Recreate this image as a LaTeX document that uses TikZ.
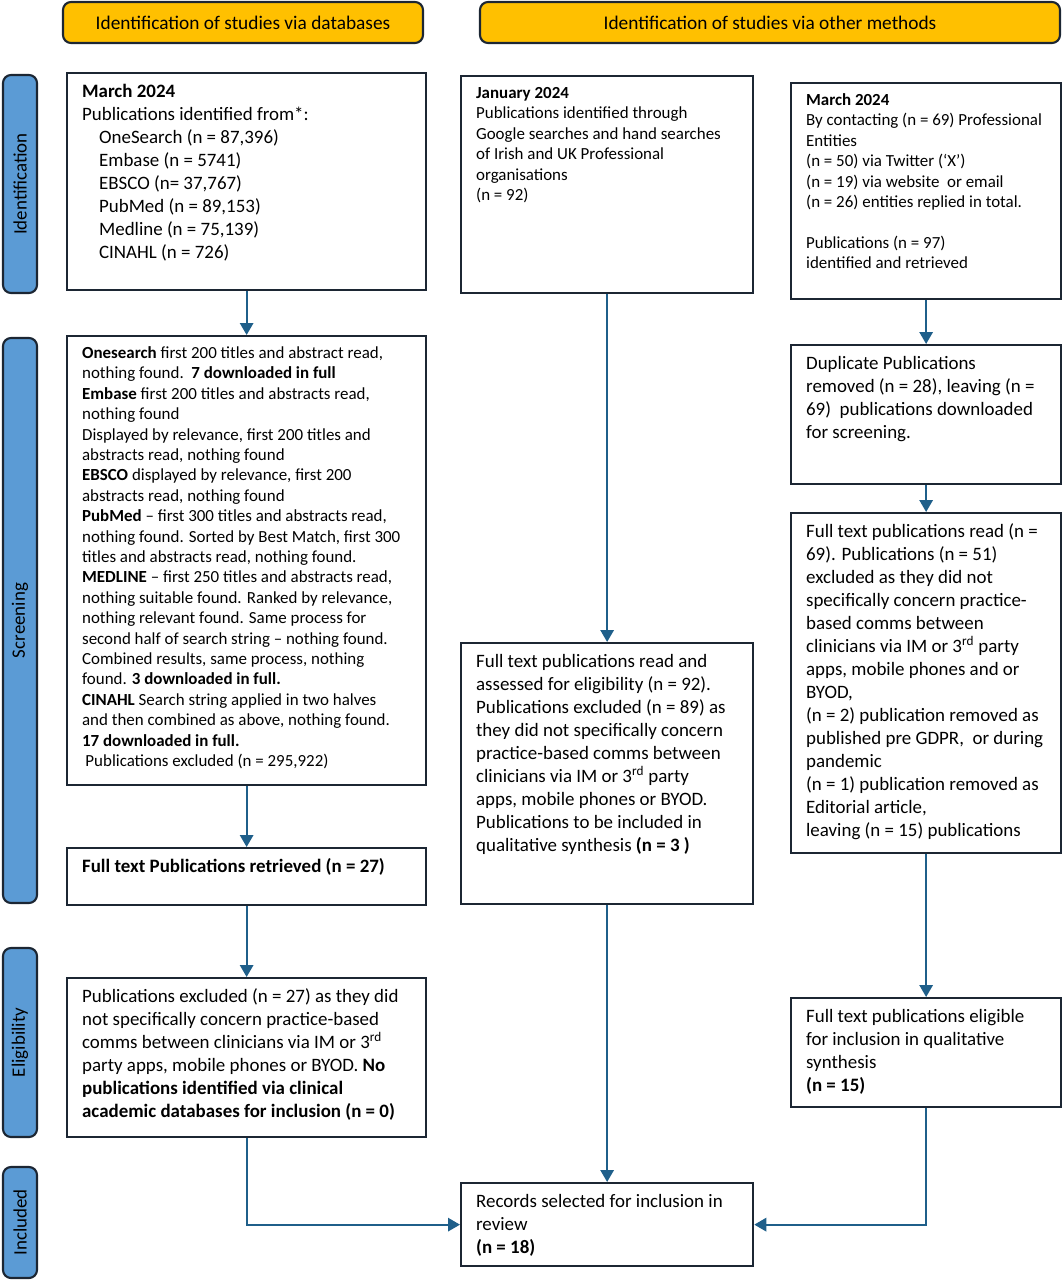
\documentclass[tikz,border=0pt]{standalone}
\usepackage{fontspec}
\setmainfont{Carlito}
\usepackage{tikz}
\usetikzlibrary{arrows.meta}
\definecolor{gold}{HTML}{FFC000}
\definecolor{barblue}{HTML}{5B9BD5}
\definecolor{navy}{HTML}{1C2633}
\definecolor{flowblue}{HTML}{1F5F8A}
\newcommand{\bigtxt}{\fontsize{14.2}{17.25}\selectfont}
\newcommand{\smalltxt}{\fontsize{12.7}{15.3}\selectfont}
\newcommand{\headtxt}{\fontsize{14.5}{17}\selectfont}
% fixed size text block, lines set one per row
\newcommand{\boxtext}[3]{\parbox[t][#2][t]{#1}{\begin{tabular}[t]{@{}l@{}}#3\end{tabular}}}

\begin{document}
\begin{tikzpicture}[x=0.75pt,y=-0.75pt,
    flow_box/.style={draw=navy,line width=1.7pt,anchor=north west,inner xsep=11.25pt,inner ysep=6pt,font=\bigtxt},
    dense_box/.style={flow_box,font=\smalltxt},
    head_box/.style={draw=navy,line width=1.6pt,fill=gold,rounded corners=6pt,minimum height=30.75pt,font=\headtxt},
    stage_bar/.style={draw=navy,line width=1.6pt,fill=barblue,rounded corners=6pt,rotate=90,minimum height=25.5pt,font=\bigtxt}]

    \useasboundingbox (0,0) rectangle (1064,1282);

    % headers
    \node[head_box,minimum width=270pt] (h1) at (243,22.5) {Identification of studies via databases};
    \node[head_box,minimum width=435pt] (h2) at (770,22.5) {Identification of studies via other methods};

    % stages
    \node[stage_bar,minimum width=163.5pt] (s1) at (20,184) {Identification};
    \node[stage_bar,minimum width=423.75pt] (s2) at (20,620.5) {Screening};
    \node[stage_bar,minimum width=141.75pt] (s3) at (20,1042.5) {Eligibility};
    \node[stage_bar,minimum width=83.25pt] (s4) at (20,1222.5) {Included};

    % databases
    \node[flow_box] (db1) at (66,72) {\boxtext{246.75pt}{150.75pt}{%
        \textbf{March 2024}\\
        Publications identified from*:\\
        \hspace*{12.75pt}OneSearch (n = 87,396)\\
        \hspace*{12.75pt}Embase (n = 5741)\\
        \hspace*{12.75pt}EBSCO (n= 37,767)\\
        \hspace*{12.75pt}PubMed (n = 89,153)\\
        \hspace*{12.75pt}Medline (n = 75,139)\\
        \hspace*{12.75pt}CINAHL (n = 726)}};
    \node[dense_box] (db2) at (66,335) {\boxtext{246.75pt}{324.75pt}{%
        \textbf{Onesearch} first 200 titles and abstract read,\\
        nothing found.\ \ \textbf{7 downloaded in full}\\
        \textbf{Embase} first 200 titles and abstracts read,\\
        nothing found\\
        Displayed by relevance, first 200 titles and\\
        abstracts read, nothing found\\
        \textbf{EBSCO} displayed by relevance, first 200\\
        abstracts read, nothing found\\
        \textbf{PubMed} – first 300 titles and abstracts read,\\
        nothing found. Sorted by Best Match, first 300\\
        titles and abstracts read, nothing found.\\
        \textbf{MEDLINE} – first 250 titles and abstracts read,\\
        nothing suitable found. Ranked by relevance,\\
        nothing relevant found. Same process for\\
        second half of search string – nothing found.\\
        Combined results, same process, nothing\\
        found. \textbf{3 downloaded in full.}\\
        \textbf{CINAHL} Search string applied in two halves\\
        and then combined as above, nothing found.\\
        \textbf{17 downloaded in full.}\\
        \hspace*{2.5pt}Publications excluded (n = 295,922)}};
    \node[flow_box] (db3) at (66,847) {\boxtext{246.75pt}{30.75pt}{%
        \textbf{Full text Publications retrieved (n = 27)}}};
    \node[flow_box] (db4) at (66,977) {\boxtext{246.75pt}{107.25pt}{%
        Publications excluded (n = 27) as they did\\
        not specifically concern practice-based\\
        comms between clinicians via IM or 3\textsuperscript{rd}\\
        party apps, mobile phones or BYOD. \textbf{No}\\
        \textbf{publications identified via clinical}\\
        \textbf{academic databases for inclusion (n = 0)}}};

    % other methods: searches
    \node[dense_box] (oth1) at (460,75) {\boxtext{196.5pt}{150.75pt}{%
        \textbf{January 2024}\\
        Publications identified through\\
        Google searches and hand searches\\
        of Irish and UK Professional\\
        organisations\\
        (n = 92)}};
    \node[flow_box] (oth2) at (460,642) {\boxtext{196.5pt}{183.75pt}{%
        Full text publications read and\\
        assessed for eligibility (n = 92).\\
        Publications excluded (n = 89) as\\
        they did not specifically concern\\
        practice-based comms between\\
        clinicians via IM or 3\textsuperscript{rd} party\\
        apps, mobile phones or BYOD.\\
        Publications to be included in\\
        qualitative synthesis \textbf{(n = 3 )}}};

    % other methods: contacting entities
    \node[dense_box] (web1) at (790,82) {\boxtext{180pt}{150pt}{%
        \textbf{March 2024}\\
        By contacting (n = 69) Professional\\
        Entities\\
        (n = 50) via Twitter (‘X’)\\
        (n = 19) via website\ \ or email\\
        (n = 26) entities replied in total.\\
        \\
        Publications (n = 97)\\
        identified and retrieved}};
    \node[flow_box] (web2) at (790,344) {\boxtext{180pt}{92.25pt}{%
        Duplicate Publications\\
        removed (n = 28), leaving (n =\\
        69)\ \ publications downloaded\\
        for screening.}};
    \node[flow_box] (web3) at (790,512) {\boxtext{180pt}{243pt}{%
        Full text publications read (n =\\
        69). Publications (n = 51)\\
        excluded as they did not\\
        specifically concern practice-\\
        based comms between\\
        clinicians via IM or 3\textsuperscript{rd} party\\
        apps, mobile phones and or\\
        BYOD,\\
        (n = 2) publication removed as\\
        published pre GDPR,\ \ or during\\
        pandemic\\
        (n = 1) publication removed as\\
        Editorial article,\\
        leaving (n = 15) publications}};
    \node[flow_box] (web4) at (790,997) {\boxtext{180pt}{69.75pt}{%
        Full text publications eligible\\
        for inclusion in qualitative\\
        synthesis\\
        \textbf{(n = 15)}}};

    % included
    \node[flow_box] (rec) at (460,1182) {\boxtext{196.5pt}{50.25pt}{%
        Records selected for inclusion in\\
        review\\
        \textbf{(n = 18)}}};

    \begin{scope}[every path/.style={draw=flowblue,line width=1.5pt,-{Triangle[width=10pt,length=9pt]}}]
    \draw (db1) -- (db2);
    \draw (db2) -- (db3);
    \draw (db3) -- (db4);
    \draw (oth1) -- (oth2);
    \draw (oth2) -- (rec);
    \draw (web1) -- (web2);
    \draw (web2) -- (web3);
    \draw (web3) -- (web4);
    \draw (db4.south) |- (rec.west);
    \draw (web4.south) |- (rec.east);
    \end{scope}
\end{tikzpicture}
\end{document}
